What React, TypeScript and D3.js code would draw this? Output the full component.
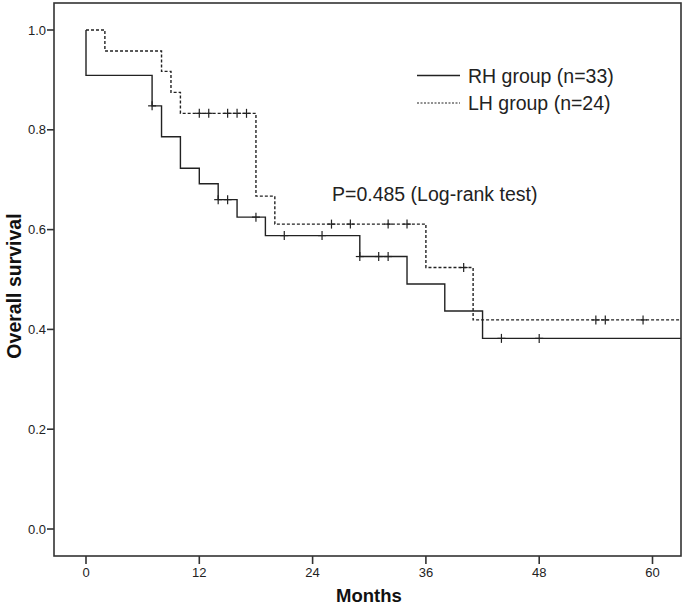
import React from "react";
import * as d3 from "d3";

// RH group (n=33): event times and survival after each drop
const rhTimes = [0, 7, 8, 10, 12, 14, 16, 19, 29, 34, 38, 42];
const rhSurv = [0.909, 0.848, 0.786, 0.723, 0.692, 0.66, 0.625, 0.588, 0.546, 0.491, 0.437, 0.382];
const rhCensor = [7, 14, 15, 18, 21, 25, 29, 31, 32, 44, 48];

// LH group (n=24)
const lhTimes = [2, 8, 9, 10, 18, 20, 36, 41];
const lhSurv = [0.958, 0.917, 0.875, 0.833, 0.667, 0.611, 0.524, 0.419];
const lhCensor = [12, 13, 15, 16, 17, 26, 28, 32, 34, 40, 54, 55, 59];

const xTicks = [0, 12, 24, 36, 48, 60];
const yTicks = [0.0, 0.2, 0.4, 0.6, 0.8, 1.0];

const legendLabels = ["RH group (n=33)", "LH group (n=24)"];
const pLabel = "P=0.485 (Log-rank test)";

const W = 685;
const H = 606;
const frame = { left: 54, right: 681, top: 3, bottom: 556 };
const FONT = "'Liberation Sans', Arial, Helvetica, sans-serif";
const INK = "#222";

export default function App() {
  const x = d3.scaleLinear().domain([0, 60]).range([86, 652.5]);
  const y = d3.scaleLinear().domain([0, 1]).range([529, 30]);
  const tEnd = x.invert(frame.right);

  const stepLine = d3
    .line<[number, number]>()
    .x((d) => x(d[0]))
    .y((d) => y(d[1]))
    .curve(d3.curveStepAfter);

  const buildPts = (times: number[], surv: number[]): [number, number][] => {
    const pts: [number, number][] = [[0, 1]];
    times.forEach((t, i) => pts.push([t, surv[i]]));
    pts.push([tEnd, surv[surv.length - 1]]);
    return pts;
  };

  const survAt = (times: number[], surv: number[], t: number) => {
    let s = 1;
    times.forEach((tt, i) => {
      if (tt <= t) s = surv[i];
    });
    return s;
  };

  const rhPts = buildPts(rhTimes, rhSurv);
  const lhPts = buildPts(lhTimes, lhSurv);

  const cross = (cx: number, cy: number, key: string) => (
    <g key={key} stroke={INK} strokeWidth={1.2}>
      <line x1={cx - 4} x2={cx + 4} y1={cy} y2={cy} />
      <line x1={cx} x2={cx} y1={cy - 4.5} y2={cy + 4.5} />
    </g>
  );

  return (
    <svg
      width={W}
      height={H}
      style={{ position: "absolute", left: 0, top: 0, background: "#fff" }}
      fontFamily={FONT}
    >
      <rect x={0} y={0} width={W} height={H} fill="#fff" />
      <defs>
        <clipPath id="plotclip">
          <rect x={frame.left} y={frame.top} width={frame.right - frame.left} height={frame.bottom - frame.top} />
        </clipPath>
      </defs>

      {/* curves */}
      <g clipPath="url(#plotclip)" fill="none">
        <path d={stepLine(rhPts) || ""} stroke={INK} strokeWidth={1.4} />
        <path d={stepLine(lhPts) || ""} stroke={INK} strokeWidth={1.4} strokeDasharray="3,2" />
        {rhCensor.map((c, i) => cross(x(c), y(survAt(rhTimes, rhSurv, c)), "rc" + i))}
        {lhCensor.map((c, i) => cross(x(c), y(survAt(lhTimes, lhSurv, c)), "lc" + i))}
      </g>

      {/* frame */}
      <rect
        x={frame.left}
        y={frame.top}
        width={frame.right - frame.left}
        height={frame.bottom - frame.top}
        fill="none"
        stroke="#333"
        strokeWidth={1.6}
      />

      {/* y axis ticks */}
      {yTicks.map((t) => (
        <g key={"y" + t}>
          <line x1={frame.left - 7} x2={frame.left} y1={y(t)} y2={y(t)} stroke="#333" strokeWidth={1.6} />
          <text x={frame.left - 8} y={y(t) + 4.5} textAnchor="end" fontSize={13} fill={INK}>
            {t.toFixed(1)}
          </text>
        </g>
      ))}

      {/* x axis ticks */}
      {xTicks.map((t) => (
        <g key={"x" + t}>
          <line x1={x(t)} x2={x(t)} y1={frame.bottom} y2={frame.bottom + 8} stroke="#333" strokeWidth={1.6} />
          <text x={x(t)} y={577} textAnchor="middle" fontSize={13} fill={INK}>
            {t}
          </text>
        </g>
      ))}

      {/* axis titles */}
      <text x={369} y={602} textAnchor="middle" fontSize={18.5} fontWeight="bold" fill="#111">
        Months
      </text>
      <text
        transform={`translate(21,${286}) rotate(-90)`}
        textAnchor="middle"
        fontSize={19.5}
        fontWeight="bold"
        fill="#111"
      >
        Overall survival
      </text>

      {/* legend */}
      <line x1={417} x2={460} y1={75.5} y2={75.5} stroke={INK} strokeWidth={1.3} />
      <text x={468} y={82.5} fontSize={19.5} fill={INK}>
        {legendLabels[0]}
      </text>
      <line x1={417} x2={460} y1={103} y2={103} stroke={INK} strokeWidth={1} strokeDasharray="2,1.5" />
      <text x={468} y={109.5} fontSize={19.5} fill={INK}>
        {legendLabels[1]}
      </text>

      {/* p-value annotation */}
      <text x={332} y={200.5} fontSize={19.5} fill={INK}>
        {pLabel}
      </text>
    </svg>
  );
}
